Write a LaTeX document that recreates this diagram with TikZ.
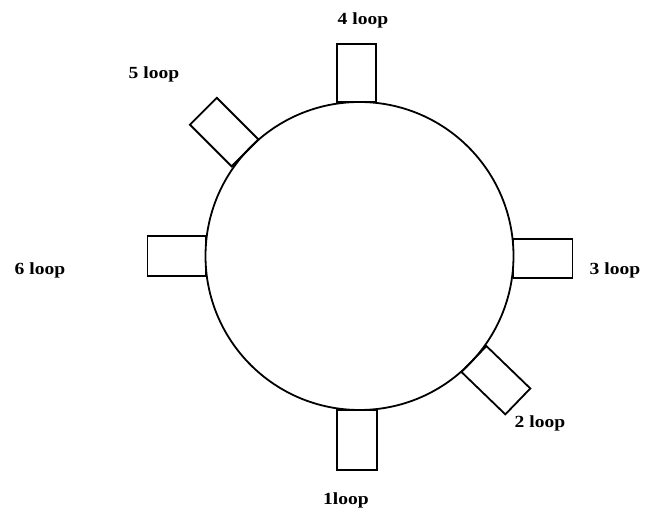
\documentclass[tikz,border=0pt]{standalone}
\usepackage{fontspec}
\setmainfont{Liberation Serif}
\begin{document}
\begin{tikzpicture}[x=1pt,y=1pt,
  ring/.style={draw, circle, line width=1.8pt, inner sep=0pt, outer sep=0pt, minimum size=308pt},
  loopbox/.style={draw, rectangle, line width=1.8pt, inner sep=0pt, outer sep=0pt, anchor=west},
  looplabel/.style={font=\fontsize{17}{20}\selectfont\bfseries, xscale=1.15, inner sep=0pt}]
\useasboundingbox (0,0) rectangle (651,514);
\node[ring] (circ) at (359.5,258) {};
\node[loopbox, rotate=90, minimum width=58pt, minimum height=39pt] (b4) at (circ.91) {};
\node[loopbox, rotate=135, minimum width=59pt, minimum height=38pt] (b5) at (circ.138) {};
\node[loopbox, rotate=180, minimum width=58pt, minimum height=40pt] (b6) at (circ.180.4) {};
\node[loopbox, rotate=0, minimum width=59pt, minimum height=39pt] (b3) at (circ.359.6) {};
\node[loopbox, rotate=-44, minimum width=61pt, minimum height=36pt] (b2) at (circ.-42.8) {};
\node[loopbox, rotate=-90, minimum width=60pt, minimum height=40pt] (b1) at (circ.269.4) {};
\node[looplabel] (l4) at (363,494) {4 loop};
\node[looplabel] (l5) at (154,440) {5 loop};
\node[looplabel] (l6) at (40,244) {6 loop};
\node[looplabel] (l3) at (615,244) {3 loop};
\node[looplabel] (l2) at (540,91) {2 loop};
\node[looplabel] (l1) at (346,14) {1loop};
\end{tikzpicture}
\end{document}
